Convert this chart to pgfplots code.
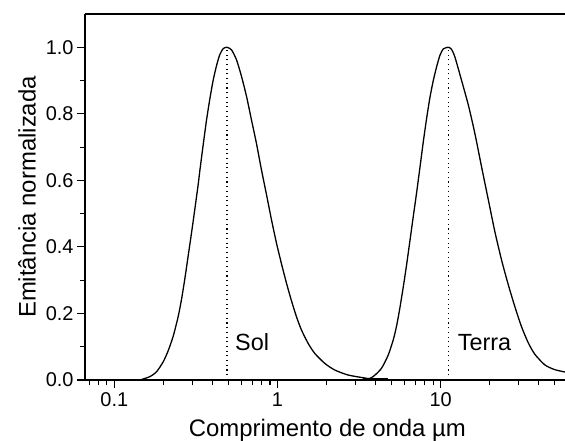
\documentclass[border=0pt]{standalone}
\usepackage{fontspec}
\setmainfont{Liberation Sans}
\usepackage{pgfplots}
\pgfplotsset{compat=1.18}
\begin{document}
\begin{tikzpicture}
\begin{axis}[
  scale only axis, width=480bp, height=366bp,
  xmode=log, xmin=0.0661, xmax=57.8, ymin=0, ymax=1.1,
  axis x line*=bottom, axis y line*=left,
  axis line style={line width=1.3bp, black},
  tick align=outside,
  xtick={0.1,1,10}, xticklabels={0.1,1,10},
  minor xtick={0.07,0.08,0.09,0.2,0.3,0.4,0.5,0.6,0.7,0.8,0.9,2,3,4,5,6,7,8,9,20,30,40,50},
  ytick={0,0.2,0.4,0.6,0.8,1.0}, yticklabels={0.0,0.2,0.4,0.6,0.8,1.0},
  minor ytick={0.1,0.3,0.5,0.7,0.9},
  major tick length=8bp, minor tick length=5bp,
  every tick/.style={black, line width=1.1bp},
  /pgf/number format/assume math mode=true,
  tick label style={font=\fontsize{20}{22}\selectfont},
  xticklabel style={yshift=-1bp},
  xlabel={Comprimento de onda µm},
  ylabel={Emitância normalizada},
  every axis x label/.style={at={(axis description cs:0.505,-0.1557)}, anchor=base, font=\fontsize{24}{26}\selectfont},
  every axis y label/.style={at={(axis description cs:-0.095,0.5)}, anchor=south, rotate=90, font=\fontsize{24}{26}\selectfont},
  clip=true,
]
\addplot[black, line width=1.3bp, smooth, tension=0.4] coordinates {
(0.1435,0.000) (0.165,0.010) (0.1816,0.025) (0.1995,0.055) (0.2138,0.088)
(0.2296,0.132) (0.246,0.190) (0.258,0.242) (0.2706,0.305) (0.2836,0.374)
(0.2974,0.443) (0.3117,0.515) (0.3266,0.588) (0.3344,0.630) (0.350,0.705)
(0.367,0.780) (0.385,0.845) (0.403,0.900) (0.423,0.945) (0.443,0.978)
(0.465,0.996) (0.49,1.000) (0.523,0.992) (0.561,0.962) (0.602,0.912)
(0.646,0.852) (0.693,0.781) (0.743,0.711) (0.798,0.631) (0.857,0.556)
(0.919,0.481) (0.986,0.411) (1.058,0.349) (1.135,0.291) (1.218,0.238)
(1.307,0.190) (1.403,0.150) (1.541,0.110) (1.691,0.080) (1.948,0.050)
(2.243,0.030) (2.707,0.015) (3.42,0.006) (3.77,0.003) (4.5,0.000)
};
\addplot[black, line width=1.3bp, smooth, tension=0.4] coordinates {
(3.2,0.000) (3.69,0.005) (3.96,0.015) (4.35,0.036) (4.77,0.075)
(5.13,0.122) (5.37,0.163) (5.63,0.218) (5.90,0.280) (6.19,0.348)
(6.49,0.421) (6.80,0.493) (7.13,0.565) (7.47,0.640) (7.82,0.715)
(8.21,0.788) (8.60,0.850) (9.01,0.900) (9.45,0.942) (9.90,0.976)
(10.38,0.995) (11.1,1.000) (11.6,0.995) (12.2,0.972) (13.4,0.902)
(14.8,0.825) (16.2,0.741) (17.8,0.641) (19.6,0.541) (21.5,0.445)
(23.6,0.361) (25.9,0.288) (28.5,0.220) (31.3,0.160) (34.4,0.112)
(37.8,0.077) (43.6,0.045) (50.1,0.031) (57.8,0.024)
};
\addplot[black, line width=2.2bp] coordinates {(3.35,0.004) (4.75,0.004)};
\addplot[black, line width=1.1bp, dash pattern=on 1.1bp off 3.6bp] coordinates {(0.49,0) (0.49,1)};
\addplot[black, line width=1.1bp, dash pattern=on 1.1bp off 3.6bp] coordinates {(11.1,0) (11.1,1)};
\node[anchor=base west, inner sep=0pt, font=\fontsize{23.5}{25}\selectfont] at (axis cs:0.549,0.090) {Sol};
\node[anchor=base west, inner sep=0pt, font=\fontsize{23.5}{25}\selectfont] at (axis cs:12.7,0.090) {Terra};
\draw[line width=1.3bp, black] (rel axis cs:0,1) -- (rel axis cs:1,1);
\coordinate (ll) at (rel axis cs:0,0);
\coordinate (ur) at (rel axis cs:1,1);
\end{axis}
\pgfresetboundingbox
\path[use as bounding box] ([xshift=-85bp,yshift=-61bp]ll) rectangle ([yshift=14bp]ur);
\end{tikzpicture}
\end{document}
